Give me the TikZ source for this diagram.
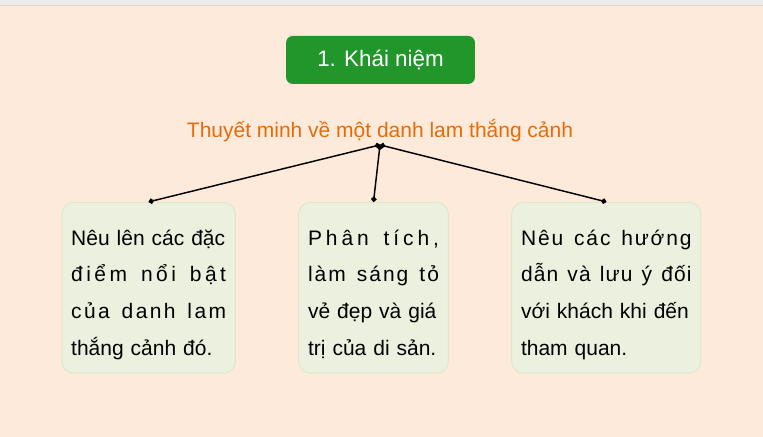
\documentclass[tikz,border=0pt]{standalone}
\usepackage{fontspec}
\setmainfont{Liberation Sans}
\usetikzlibrary{arrows.meta, positioning}

\definecolor{peach}{RGB}{253,234,218}
\definecolor{topgray}{RGB}{237,235,236}
\definecolor{topline}{RGB}{214,211,209}
\definecolor{headgreen}{RGB}{33,150,43}
\definecolor{titleorange}{RGB}{228,108,10}
\definecolor{cardfill}{RGB}{235,241,222}
\definecolor{cardline}{RGB}{222,231,204}

% a line set to the full width, the space shared out between its letters
\makeatletter
\newcommand\spreadline[1]{\makebox[\linewidth][s]{\spr@w#1 \@nil}}
\def\spr@w#1 #2\@nil{\spr@l#1\@nil\def\spr@rest{#2}%
  \ifx\spr@rest\@empty\else\hfill\ \hfill\spr@w#2\@nil\fi}
\def\spr@l#1#2\@nil{#1\def\spr@tmp{#2}%
  \ifx\spr@tmp\@empty\else\hfill\spr@l#2\@nil\fi}
\makeatother
\newcommand\fullline[1]{\makebox[\linewidth][s]{#1}}
\newcommand\topstrut{\rule{0pt}{23.75pt}}
\newcommand\bottomstrut{\rule[-5pt]{0pt}{5pt}}

\begin{document}
\begin{tikzpicture}[x=.75pt, y=-.75pt,
  card/.style={draw=cardline, fill=cardfill, rounded corners=9pt, line width=.75pt,
    anchor=north, minimum height=128.25pt, inner xsep=7pt, align=left,
    font=\fontsize{15.75}{27.5}\selectfont},
  wire/.style={line width=1.1pt, {Circle[length=4pt]}-{Circle[length=4pt]}}]
\def\cardtop{202}

% page
\fill[peach] (0,0) rectangle (763,437);
\fill[topgray] (0,0) rectangle (763,5);
\draw[topline] (0,5.5) -- (763,5.5);

\node[fill=headgreen, rounded corners=5pt, minimum width=141.75pt, minimum height=36pt,
  text=white, font=\fontsize{16.8}{20}\selectfont] (head) at (380.5,60) {1. Khái niệm};

\node[text=titleorange, font=\fontsize{15.75}{18}\selectfont, anchor=base] (title) at (380,138)
  {Thuyết minh về một danh lam thắng cảnh};
\coordinate (hub) at (380,145);

\node[card, text width=116.25pt] (noi) at (148.5,\cardtop)
  {\topstrut\fullline{Nêu lên các đặc}\\ \spreadline{điểm nổi bật}\\
   \spreadline{của danh lam}\\ thắng cảnh đó.\bottomstrut};
\node[card, text width=98.25pt] (phantich) at (373.5,\cardtop)
  {\topstrut\spreadline{Phân tích,}\\ \spreadline{làm sáng tỏ}\\
   \fullline{vẻ đẹp và giá}\\ trị của di sản.\bottomstrut};
\node[card, text width=128pt] (huongdan) at (606.5,\cardtop)
  {\topstrut\spreadline{Nêu các hướng}\\ \spreadline{dẫn và lưu ý đối}\\
   \fullline{với khách khi đến}\\ tham quan.\bottomstrut};

\draw[wire] (hub) -- (noi.north);
\draw[wire] (hub) -- (phantich.north);
\draw[wire] (hub) -- (huongdan.north);

\end{tikzpicture}
\end{document}
